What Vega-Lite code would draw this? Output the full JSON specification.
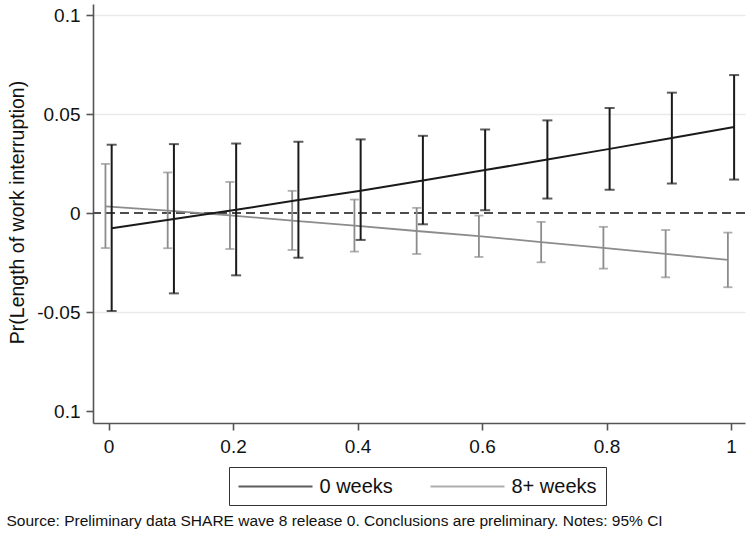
{
  "$schema": "https://vega.github.io/schema/vega-lite/v6.json",
  "width": 652,
  "height": 419,
  "autosize": {"type": "none"},
  "padding": {"left": 93, "top": 4, "right": 4, "bottom": 110},
  "background": "white",
  "config": {
    "view": {"stroke": null},
    "font": "Liberation Sans",
    "axis": {
      "labelFont": "Liberation Sans",
      "titleFont": "Liberation Sans",
      "labelColor": "#111",
      "titleColor": "#111",
      "domainColor": "#555",
      "domainWidth": 1.6,
      "tickColor": "#555",
      "tickWidth": 1.6,
      "tickSize": 7,
      "labelFontSize": 19,
      "titleFontWeight": "normal"
    },
    "legend": {
      "labelFont": "Liberation Sans"
    }
  },
  "data": {
    "values": [
      {"x": -0.005, "g": "8+ weeks", "est": 0.0034, "lo": -0.0176, "hi": 0.0249},
      {"x": 0.095, "g": "8+ weeks", "est": 0.0013, "lo": -0.0177, "hi": 0.0206},
      {"x": 0.195, "g": "8+ weeks", "est": -0.0011, "lo": -0.0181, "hi": 0.0158},
      {"x": 0.295, "g": "8+ weeks", "est": -0.0037, "lo": -0.0186, "hi": 0.0113},
      {"x": 0.395, "g": "8+ weeks", "est": -0.0063, "lo": -0.0194, "hi": 0.0069},
      {"x": 0.495, "g": "8+ weeks", "est": -0.009, "lo": -0.0206, "hi": 0.0027},
      {"x": 0.595, "g": "8+ weeks", "est": -0.0116, "lo": -0.0221, "hi": -0.0012},
      {"x": 0.695, "g": "8+ weeks", "est": -0.0146, "lo": -0.0248, "hi": -0.0044},
      {"x": 0.795, "g": "8+ weeks", "est": -0.0175, "lo": -0.028, "hi": -0.0069},
      {"x": 0.895, "g": "8+ weeks", "est": -0.0205, "lo": -0.0324, "hi": -0.0085},
      {"x": 0.995, "g": "8+ weeks", "est": -0.0236, "lo": -0.0374, "hi": -0.0098},
      {"x": 0.005, "g": "0 weeks", "est": -0.0076, "lo": -0.0494, "hi": 0.0346},
      {"x": 0.105, "g": "0 weeks", "est": -0.0029, "lo": -0.0405, "hi": 0.0349},
      {"x": 0.205, "g": "0 weeks", "est": 0.0017, "lo": -0.0314, "hi": 0.0352},
      {"x": 0.305, "g": "0 weeks", "est": 0.0067, "lo": -0.0225, "hi": 0.0361},
      {"x": 0.405, "g": "0 weeks", "est": 0.0114, "lo": -0.0135, "hi": 0.0373},
      {"x": 0.505, "g": "0 weeks", "est": 0.0165, "lo": -0.0056, "hi": 0.0391},
      {"x": 0.605, "g": "0 weeks", "est": 0.0218, "lo": 0.0015, "hi": 0.0423},
      {"x": 0.705, "g": "0 weeks", "est": 0.0271, "lo": 0.0074, "hi": 0.0469},
      {"x": 0.805, "g": "0 weeks", "est": 0.0325, "lo": 0.0118, "hi": 0.0531},
      {"x": 0.905, "g": "0 weeks", "est": 0.038, "lo": 0.015, "hi": 0.0609},
      {"x": 1.005, "g": "0 weeks", "est": 0.0435, "lo": 0.017, "hi": 0.0698}
    ]
  },
  "encoding": {
    "x": {
      "field": "x",
      "type": "quantitative",
      "scale": {"domain": [-0.025, 1.0225], "nice": false, "zero": false},
      "axis": {
        "values": [0, 0.2, 0.4, 0.6, 0.8, 1],
        "format": ".1~f",
        "grid": false,
        "labelPadding": 7,
        "title": "Source: Preliminary data SHARE wave 8 release 0. Conclusions are preliminary. Notes: 95% CI",
        "titleFontSize": 15.5,
        "titleX": -87,
        "titleY": 102,
        "titleAlign": "left",
        "titleBaseline": "alphabetic",
        "titleAnchor": "start"
      }
    },
    "color": {
      "field": "g",
      "type": "nominal",
      "scale": {"domain": ["0 weeks", "8+ weeks"], "range": ["#1a1a1a", "#8c8c8c"]},
      "legend": {
        "title": null,
        "orient": "none",
        "legendX": 136,
        "legendY": 463,
        "direction": "horizontal",
        "strokeColor": "#333",
        "padding": 8.5,
        "symbolType": "M -1 0 L 6.4 0",
        "symbolSize": 400,
        "symbolStrokeWidth": 2,
        "labelFontSize": 20,
        "labelColor": "#111",
        "labelOffset": 60,
        "columnPadding": 33
      }
    }
  },
  "layer": [
    {
      "mark": {"type": "rule", "strokeWidth": 1.4, "strokeDash": [9, 5]},
      "encoding": {
        "x": null,
        "color": {"value": "#4d4d4d"},
        "y": {
          "datum": 0,
          "type": "quantitative",
          "scale": {"domain": [-0.106, 0.1057], "nice": false, "zero": false},
          "axis": {
            "values": [-0.1, -0.05, 0, 0.05, 0.1],
            "format": ".2~f",
            "labelExpr": "datum.value < -0.09 ? '0.1' : replace(datum.label, '\u2212', '-')",
            "labelPadding": 6,
            "grid": true,
            "gridColor": "#e9e9e9",
            "gridWidth": 1.5,
            "gridOpacity": {"condition": {"test": "datum.value < -0.09 || abs(datum.value) < 0.001", "value": 0}, "value": 1},
            "title": "Pr(Length of work interruption)",
            "titleFontSize": 19.5,
            "titleX": -70,
            "titleY": 208,
            "titleAngle": -90,
            "titleAlign": "center",
            "titleBaseline": "alphabetic"
          }
        }
      }
    },
    {
      "transform": [{"filter": "datum.g == '8+ weeks'"}],
      "layer": [
        {
          "mark": {"type": "rule", "strokeWidth": 1.8},
          "encoding": {
            "y": {"field": "lo", "type": "quantitative"},
            "y2": {"field": "hi"}
          }
        },
        {
          "mark": {"type": "tick", "orient": "horizontal", "size": 9, "thickness": 1.8},
          "encoding": {
            "y": {"field": "lo", "type": "quantitative"}
          }
        },
        {
          "mark": {"type": "tick", "orient": "horizontal", "size": 9, "thickness": 1.8},
          "encoding": {
            "y": {"field": "hi", "type": "quantitative"}
          }
        },
        {
          "mark": {"type": "line", "strokeWidth": 1.8},
          "encoding": {
            "y": {"field": "est", "type": "quantitative"}
          }
        }
      ]
    },
    {
      "transform": [{"filter": "datum.g == '0 weeks'"}],
      "layer": [
        {
          "mark": {"type": "rule", "strokeWidth": 2},
          "encoding": {
            "y": {"field": "lo", "type": "quantitative"},
            "y2": {"field": "hi"}
          }
        },
        {
          "mark": {"type": "tick", "orient": "horizontal", "size": 10, "thickness": 2},
          "encoding": {
            "y": {"field": "lo", "type": "quantitative"}
          }
        },
        {
          "mark": {"type": "tick", "orient": "horizontal", "size": 10, "thickness": 2},
          "encoding": {
            "y": {"field": "hi", "type": "quantitative"}
          }
        },
        {
          "mark": {"type": "line", "strokeWidth": 2},
          "encoding": {
            "y": {"field": "est", "type": "quantitative"}
          }
        }
      ]
    }
  ]
}
